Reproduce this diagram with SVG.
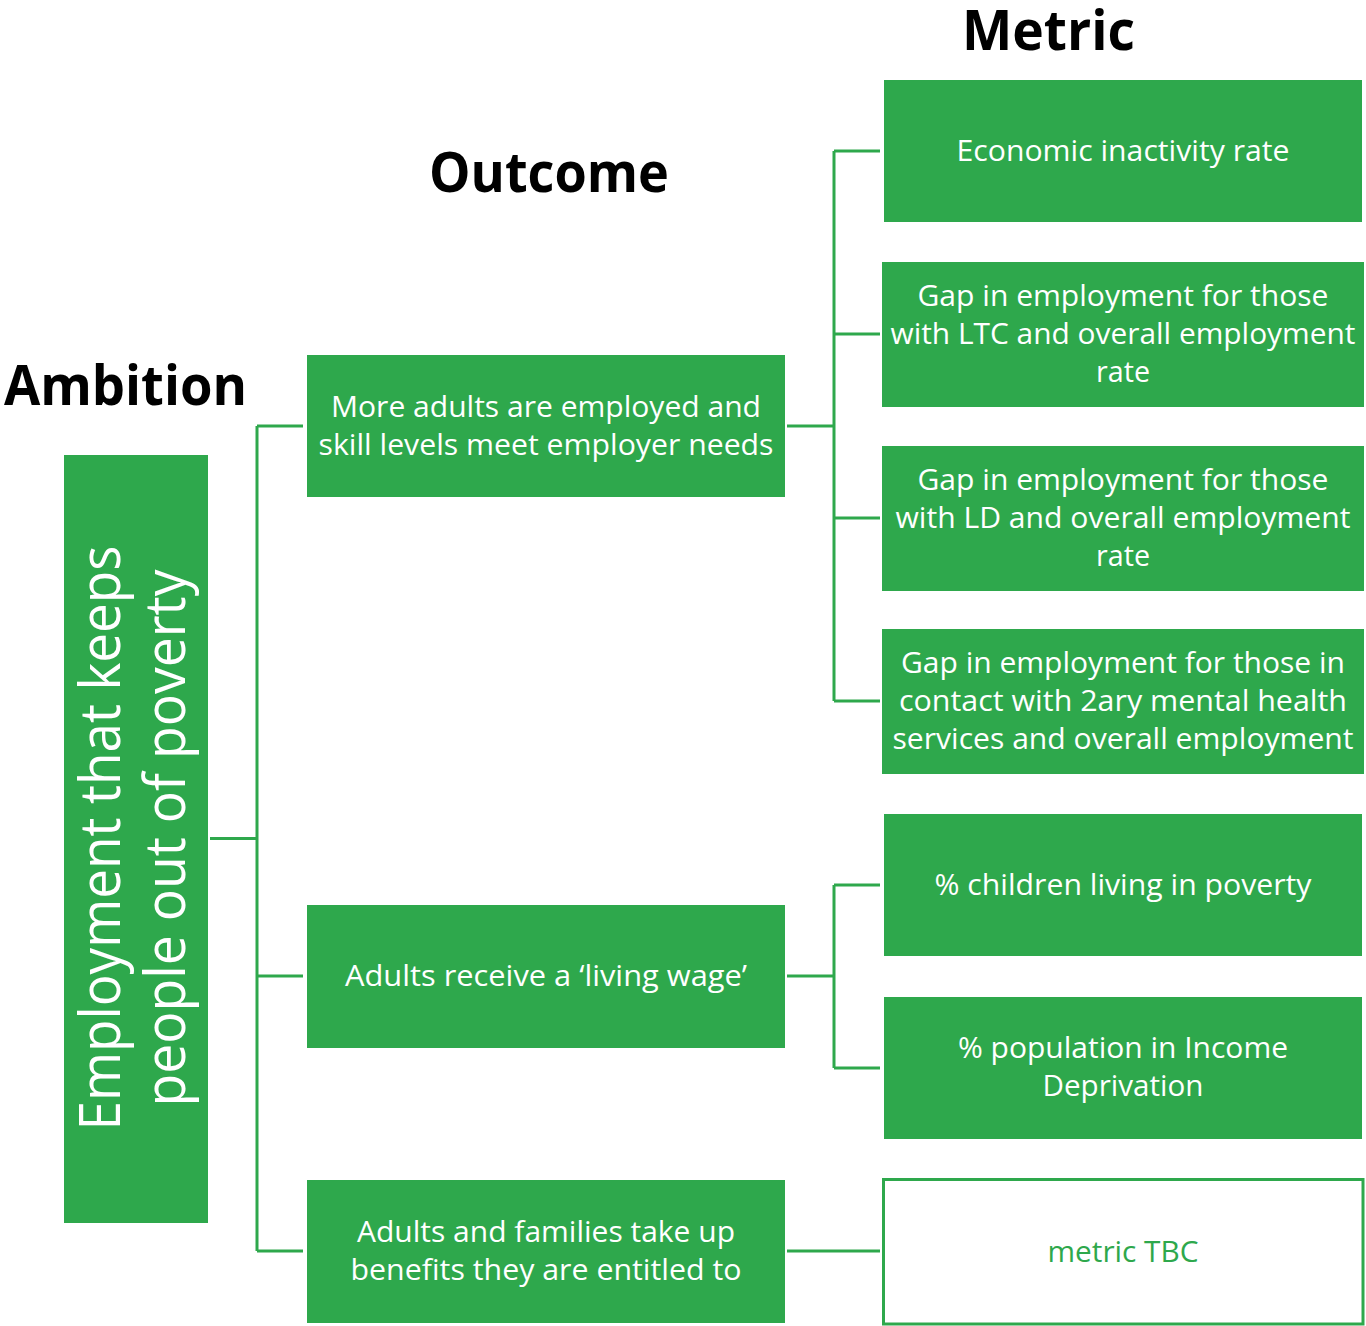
<svg xmlns="http://www.w3.org/2000/svg" width="1366" height="1326" viewBox="0 0 1366 1326">
<style>
.box{fill:#2EA84C;}
.obox{fill:#ffffff;stroke:#2EA84C;stroke-width:3;}
.t{font-family:"Open Sans","Noto Sans","Liberation Sans",sans-serif;font-size:29px;fill:#ffffff;text-anchor:middle;}
.tg{font-family:"Open Sans","Noto Sans","Liberation Sans",sans-serif;font-size:29px;fill:#2EA84C;text-anchor:middle;}
.h{font-family:"Open Sans","Noto Sans","Liberation Sans",sans-serif;font-size:56px;font-weight:bold;fill:#000000;}
.v{font-family:"Open Sans","Noto Sans","Liberation Sans",sans-serif;font-size:56px;fill:#ffffff;text-anchor:middle;}
.c{fill:none;stroke:#2EA84C;stroke-width:3;}
</style>
<rect width="1366" height="1326" fill="#ffffff"/>
<g id="headers">
<text class="h" x="962" y="50" textLength="173" lengthAdjust="spacingAndGlyphs">Metric</text>
<text class="h" x="429" y="192" textLength="240" lengthAdjust="spacingAndGlyphs">Outcome</text>
<text class="h" x="4" y="405" textLength="243" lengthAdjust="spacingAndGlyphs">Ambition</text>
</g>
<g id="connectors">
<path class="c" d="M210 838.5H257M257 426V1251M257 426H303M257 976H303M257 1251H303"/>
<path class="c" d="M787 426H834M834 151V701M834 151H880M834 334H880M834 518H880M834 701H880"/>
<path class="c" d="M787 976H834M834 885V1068M834 885H880M834 1068H880"/>
<path class="c" d="M787 1251H880"/>
</g>
<g id="ambition">
<rect class="box" x="64" y="455" width="144" height="768"/>
<text class="v" transform="translate(120 838) rotate(-90)" textLength="585" lengthAdjust="spacingAndGlyphs">Employment that keeps</text>
<text class="v" transform="translate(185 838) rotate(-90)" textLength="537" lengthAdjust="spacingAndGlyphs">people out of poverty</text>
</g>
<g id="outcome1">
<rect class="box" x="307" y="355" width="478" height="142"/>
<text class="t" x="546" y="417" textLength="430" lengthAdjust="spacingAndGlyphs">More adults are employed and</text>
<text class="t" x="546" y="455" textLength="455" lengthAdjust="spacingAndGlyphs">skill levels meet employer needs</text>
</g>
<g id="outcome2">
<rect class="box" x="307" y="905" width="478" height="143"/>
<text class="t" x="546" y="986" textLength="402" lengthAdjust="spacingAndGlyphs">Adults receive a ‘living wage’</text>
</g>
<g id="outcome3">
<rect class="box" x="307" y="1180" width="478" height="143"/>
<text class="t" x="546" y="1242" textLength="378" lengthAdjust="spacingAndGlyphs">Adults and families take up</text>
<text class="t" x="546" y="1280" textLength="391" lengthAdjust="spacingAndGlyphs">benefits they are entitled to</text>
</g>
<g id="metric1">
<rect class="box" x="884" y="80" width="478" height="142"/>
<text class="t" x="1123" y="161" textLength="333" lengthAdjust="spacingAndGlyphs">Economic inactivity rate</text>
</g>
<g id="metric2">
<rect class="box" x="882" y="262" width="482" height="145"/>
<text class="t" x="1123" y="306" textLength="411" lengthAdjust="spacingAndGlyphs">Gap in employment for those</text>
<text class="t" x="1123" y="344" textLength="465" lengthAdjust="spacingAndGlyphs">with LTC and overall employment</text>
<text class="t" x="1123" y="382" textLength="54" lengthAdjust="spacingAndGlyphs">rate</text>
</g>
<g id="metric3">
<rect class="box" x="882" y="446" width="482" height="145"/>
<text class="t" x="1123" y="490" textLength="411" lengthAdjust="spacingAndGlyphs">Gap in employment for those</text>
<text class="t" x="1123" y="528" textLength="455" lengthAdjust="spacingAndGlyphs">with LD and overall employment</text>
<text class="t" x="1123" y="566" textLength="54" lengthAdjust="spacingAndGlyphs">rate</text>
</g>
<g id="metric4">
<rect class="box" x="882" y="629" width="482" height="145"/>
<text class="t" x="1123" y="673" textLength="444" lengthAdjust="spacingAndGlyphs">Gap in employment for those in</text>
<text class="t" x="1123" y="711" textLength="448" lengthAdjust="spacingAndGlyphs">contact with 2ary mental health</text>
<text class="t" x="1123" y="749" textLength="461" lengthAdjust="spacingAndGlyphs">services and overall employment</text>
</g>
<g id="metric5">
<rect class="box" x="884" y="814" width="478" height="142"/>
<text class="t" x="1123" y="895" textLength="377" lengthAdjust="spacingAndGlyphs">% children living in poverty</text>
</g>
<g id="metric6">
<rect class="box" x="884" y="997" width="478" height="142"/>
<text class="t" x="1123" y="1058" textLength="330" lengthAdjust="spacingAndGlyphs">% population in Income</text>
<text class="t" x="1123" y="1096" textLength="161" lengthAdjust="spacingAndGlyphs">Deprivation</text>
</g>
<g id="metric7">
<rect class="obox" x="883.5" y="1179.5" width="479.5" height="144.5"/>
<text class="tg" x="1123" y="1262" textLength="151" lengthAdjust="spacingAndGlyphs">metric TBC</text>
</g>
</svg>
